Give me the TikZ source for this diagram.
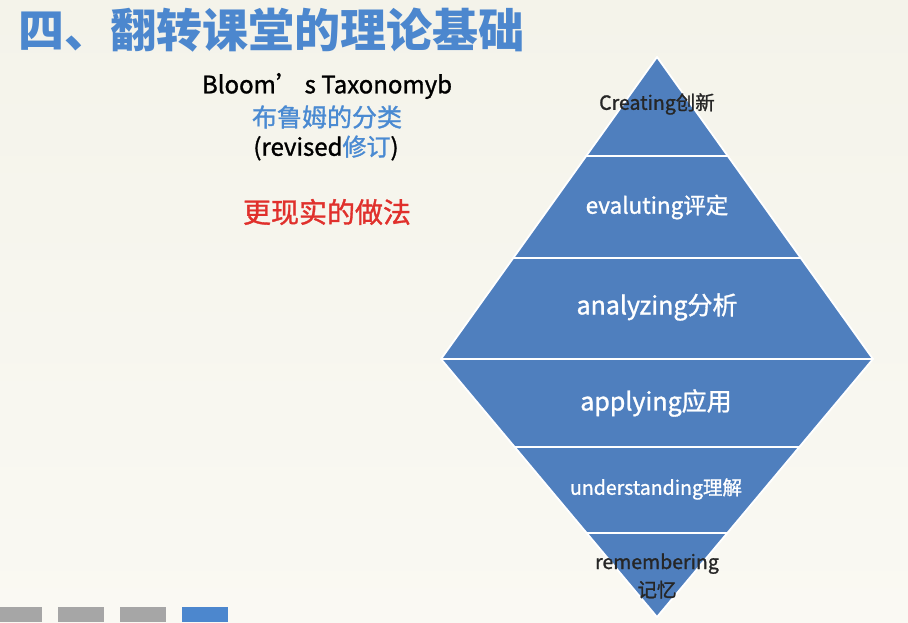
\documentclass[tikz,border=0pt]{standalone}
\usepackage{fontspec}
\setmainfont{Noto Sans CJK SC}
\newfontfamily\medium{Noto Sans CJK SC}[FakeBold=1.2]
\usepackage{tikz}
\usetikzlibrary{calc}
\usetikzlibrary{math}
\usetikzlibrary{positioning}
\definecolor{bandblue}{HTML}{4F7FBE}
\definecolor{titleblue}{HTML}{4C87CE}
\definecolor{textblue}{HTML}{4A8AD2}
\definecolor{textred}{HTML}{E0302C}
\definecolor{boxgray}{HTML}{A6A6A6}
\definecolor{bgtop}{HTML}{F4F3EA}
\definecolor{bgbottom}{HTML}{FAF9F3}
\tikzstyle{band} = [fill=bandblue, draw=white, line width=1.8pt, line join=round]
\tikzstyle{lvl} = [text=white, inner sep=0pt]
\tikzstyle{tab} = [fill=boxgray, draw=none]

\begin{document}
\begin{tikzpicture}[x=1pt, y=-1pt]

  \tikzmath{\w = 908; \h = 622;}

  % background
  \shade[top color=bgtop, bottom color=bgbottom] (0,0) rectangle (\w,\h);
  \useasboundingbox (0,0) rectangle (\w,\h);

  % title and left text
  \node[anchor=west, inner sep=0pt, text=titleblue, font=\fontsize{46}{50}\selectfont\bfseries] (title) at (18,30) {四、翻转课堂的理论基础};

  \node[inner sep=0pt, font=\medium\fontsize{24}{26}\selectfont] (bloom) at (327,86) {Bloom’\hspace{0.2em}s Taxonomyb};
  \node[inner sep=0pt, text=textblue, font=\medium\fontsize{25}{27}\selectfont] (bloomcn) at (327,117) {布鲁姆的分类};
  \node[inner sep=0pt, font=\medium\fontsize{24}{26}\selectfont] (revised) at (326,148) {(revised\textcolor{textblue}{修订})};
  \node[inner sep=0pt, text=textred, font=\medium\fontsize{28}{30}\selectfont] (practice) at (327,212) {更现实的做法};

  % diamond
  \coordinate (apex) at (657,57);
  \coordinate (lt) at (441,359);
  \coordinate (rt) at (873,359);
  \coordinate (nadir) at (657,617);

  \foreach \ya/\yb in {57/156, 156/258, 258/359} {
    \pgfmathsetmacro{\fa}{(\ya-57)/302}
    \pgfmathsetmacro{\fb}{(\yb-57)/302}
    \draw[band] ($(apex)!\fa!(lt)$) -- ($(apex)!\fb!(lt)$) -- ($(apex)!\fb!(rt)$) -- ($(apex)!\fa!(rt)$) -- cycle;
  }
  \foreach \ya/\yb in {359/447, 447/533, 533/617} {
    \pgfmathsetmacro{\fa}{(617-\ya)/258}
    \pgfmathsetmacro{\fb}{(617-\yb)/258}
    \draw[band] ($(nadir)!\fa!(lt)$) -- ($(nadir)!\fb!(lt)$) -- ($(nadir)!\fb!(rt)$) -- ($(nadir)!\fa!(rt)$) -- cycle;
  }

  \node[lvl, text=black!85, font=\medium\fontsize{19.5}{22}\selectfont] (creating) at (657,104) {Creating创新};
  \node[lvl, font=\medium\fontsize{22.5}{24}\selectfont] (evaluating) at (657,207) {evaluting评定};
  \node[lvl, font=\medium\fontsize{25}{28}\selectfont] (analyzing) at (657,307) {analyzing分析};
  \node[lvl, font=\medium\fontsize{25}{28}\selectfont] (applying) at (656,403) {applying应用};
  \node[lvl, font=\medium\fontsize{19.5}{21}\selectfont] (understanding) at (656,489) {understanding理解};
  \node[lvl, text=black!85, font=\medium\fontsize{19.5}{28}\selectfont, align=center] (remembering) at (657,576) {remembering\\记忆};

  % page tabs
  \foreach \i in {0,1,2} {
    \fill[tab] (-4+62*\i,607) rectangle (42+62*\i,\h);
  }
  \fill[fill=titleblue] (182,607) rectangle (228,\h);

\end{tikzpicture}
\end{document}
